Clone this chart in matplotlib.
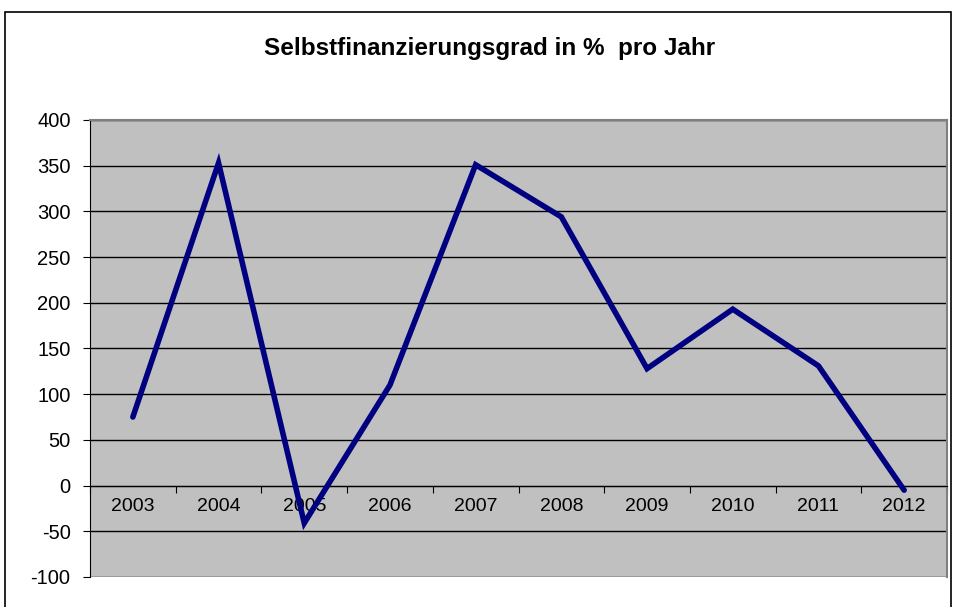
import matplotlib.pyplot as plt
import matplotlib.patches as patches
import numpy as np

# data
years = ['2003', '2004', '2005', '2006', '2007', '2008', '2009', '2010', '2011', '2012']
grad = [75, 353, -41, 110, 351, 294, 128, 193, 131, -5]

plt.rcParams['font.family'] = ['Liberation Sans', 'DejaVu Sans']
plt.rcParams['axes.unicode_minus'] = False

fig = plt.figure(figsize=(9.54, 6.07), dpi=100)
ax = fig.add_axes([90 / 954, 30 / 607, 857 / 954, 457 / 607])

x = np.arange(len(years))
ax.plot(x, grad, color='#000080', linewidth=4, solid_capstyle='round', solid_joinstyle='miter', zorder=3)

ax.set_facecolor('#C0C0C0')
ax.set_xlim(-0.5, len(years) - 0.5)
ax.set_ylim(-100, 400)
ax.set_yticks(np.arange(-100, 401, 50))
ax.yaxis.grid(True, color='black', linewidth=1)
ax.set_axisbelow(True)

# category axis crosses at zero, labels below it, ticks between categories
ax.spines['bottom'].set_position(('data', 0))
ax.spines['bottom'].set_color('black')
ax.set_xticks(np.arange(len(years) + 1) - 0.5)
ax.set_xticklabels([])
ax.set_xticks(x, minor=True)
ax.set_xticklabels(years, minor=True)
ax.tick_params(axis='x', which='major', direction='out', length=5, color='black')
ax.tick_params(axis='x', which='minor', length=0, pad=9, labelsize=14)

ax.spines['left'].set_color('black')
ax.tick_params(axis='y', direction='out', length=5, labelsize=14.5, pad=9)
for s in ['top', 'right']:
    ax.spines[s].set_color('#808080')
    ax.spines[s].set_linewidth(1.5)

fig.text(490 / 954, 1 - 48 / 607, 'Selbstfinanzierungsgrad in %  pro Jahr',
         ha='center', va='center', fontsize=17.5, fontweight='bold')

# chart frame
frame = patches.Rectangle((5 / 954, -0.1), 946 / 954, 1.1 - 12 / 607, transform=fig.transFigure,
                          fill=False, edgecolor='black', linewidth=1.2, clip_on=False)
fig.patches.append(frame)

fig.savefig('out.png', dpi=100)
